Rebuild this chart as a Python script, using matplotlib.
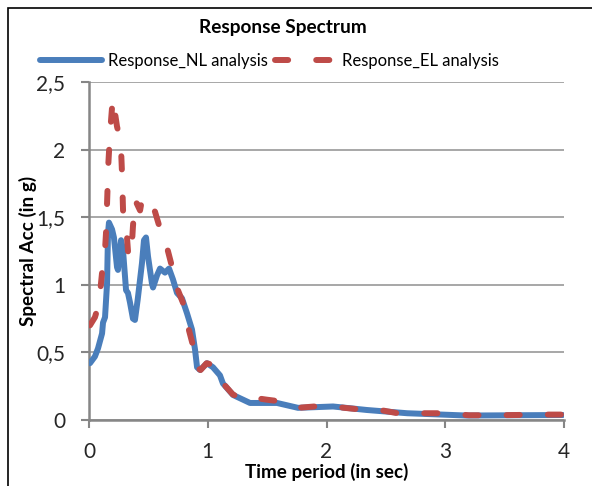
import numpy as np
import matplotlib
matplotlib.use("Agg")
import matplotlib.pyplot as plt
from matplotlib.patches import Rectangle

plt.rcParams['font.family'] = ['Lato', 'DejaVu Sans']

# Response_NL analysis
t_nl = [0.008, 0.05, 0.076, 0.11, 0.118, 0.135, 0.152, 0.16, 0.168, 0.194, 0.21, 0.236,
        0.244, 0.27, 0.286, 0.312, 0.328, 0.345, 0.37, 0.387, 0.41, 0.446, 0.463, 0.48,
        0.497, 0.53, 0.539, 0.573, 0.598, 0.64, 0.674, 0.707, 0.741, 0.783, 0.825, 0.867,
        0.893, 0.91, 0.935, 0.994, 1.044, 1.103, 1.128, 1.213, 1.356, 1.583, 1.76, 2.055,
        2.34, 2.68, 3.18, 3.99]
sa_nl = [0.42, 0.47, 0.53, 0.64, 0.72, 0.76, 1.01, 1.38, 1.46, 1.41, 1.35, 1.13,
         1.11, 1.33, 1.26, 0.96, 0.94, 0.87, 0.75, 0.74, 0.89, 1.16, 1.33, 1.35,
         1.21, 1.01, 0.98, 1.07, 1.12, 1.09, 1.12, 1.04, 0.94, 0.90, 0.79, 0.67,
         0.52, 0.39, 0.37, 0.42, 0.39, 0.33, 0.27, 0.185, 0.126, 0.126, 0.09, 0.10,
         0.074, 0.05, 0.033, 0.037]

# Response_EL analysis
t_el = [0.008, 0.05, 0.067, 0.093, 0.11, 0.118, 0.135, 0.143, 0.150, 0.155, 0.16, 0.177,
        0.194, 0.202, 0.219, 0.236, 0.25, 0.263, 0.27, 0.28, 0.285, 0.29, 0.32, 0.33,
        0.345, 0.362, 0.37, 0.387, 0.43, 0.446, 0.49, 0.52, 0.556, 0.60, 0.65, 0.70,
        0.74, 0.79, 0.834, 0.876, 0.918, 0.94, 0.99, 1.035, 1.10, 1.13, 1.21, 1.30,
        1.42, 1.50, 1.59, 1.70, 1.76, 1.90, 2.06, 2.15, 2.26, 2.45, 2.60, 2.80,
        3.00, 3.20, 3.40, 3.60, 3.80, 4.00]
sa_el = [0.70, 0.76, 0.81, 0.94, 1.09, 1.16, 1.26, 1.38, 1.55, 1.68, 1.85, 2.12,
         2.31, 2.20, 2.27, 2.17, 2.12, 2.07, 2.0, 1.78, 1.60, 1.46, 1.35, 1.23,
         1.20, 1.31, 1.43, 1.63, 1.55, 1.63, 1.65, 1.60, 1.54, 1.41, 1.30, 1.13,
         0.98, 0.87, 0.69, 0.55, 0.38, 0.37, 0.42, 0.41, 0.33, 0.27, 0.19, 0.15,
         0.16, 0.15, 0.14, 0.10, 0.09, 0.10, 0.10, 0.09, 0.08, 0.074, 0.05, 0.05,
         0.05, 0.035, 0.035, 0.037, 0.04, 0.04]

yticks = [0, 0.5, 1, 1.5, 2, 2.5]
ytick_labels = ["0", "0,5", "1", "1,5", "2", "2,5"]
xticks = [0, 1, 2, 3, 4]

fig = plt.figure(figsize=(5.92, 4.86), dpi=100)
ax = fig.add_axes([89/592, 1 - 420/486, (564 - 89)/592, (420 - 82)/486])

ax.plot(t_nl, sa_nl, color="#4a7ebb", lw=4.3, solid_capstyle="round",
        solid_joinstyle="round", label="Response_NL analysis", zorder=3)
ax.plot(t_el, sa_el, color="#be4b48", lw=4.3, dashes=(2.2, 4.7),
        dash_capstyle="round", dash_joinstyle="round",
        label="Response_EL analysis", zorder=4)

ax.set_xlim(0, 4)
ax.set_ylim(0, 2.5)
ax.set_xticks(xticks)
ax.set_yticks(yticks)
ax.set_yticklabels(ytick_labels)
ax.yaxis.grid(True, color="#a0a0a0", lw=1.3)
ax.set_axisbelow(True)
for s in ["top", "right"]:
    ax.spines[s].set_visible(False)
for s in ["left", "bottom"]:
    ax.spines[s].set_color("#868686")
    ax.spines[s].set_linewidth(1.8)
ax.tick_params(axis="both", direction="out", length=6, width=1.5, color="#868686",
               labelsize=15, labelcolor="#262626")
ax.tick_params(axis="x", pad=10)
ax.tick_params(axis="y", pad=11)

ax.set_xlabel("Time period (in sec)", fontsize=13.6, fontweight="bold")
ax.set_ylabel("Spectral Acc (in g)", fontsize=13.6, fontweight="bold")
ax.xaxis.set_label_coords(0.5, (420 - 472) / 338)
ax.xaxis.label.set_va("center")
ax.yaxis.set_label_coords((28 - 89) / 475, 0.5)
ax.yaxis.label.set_va("center")

fig.text(283/592, 1 - 27/486, "Response Spectrum", ha="center", va="center",
         fontsize=13.7, fontweight="bold")
fig.legend(loc="center left", bbox_to_anchor=(40/592, 1 - 61/486), ncol=2, frameon=False,
           fontsize=12, handlelength=3.7, columnspacing=0.42, handletextpad=0.36,
           borderpad=0, borderaxespad=0)

# chart frame (cut off on the right and bottom)
fig.patches.append(Rectangle((8/592, -0.5), 2, 0.5 + 1 - 8/486, transform=fig.transFigure,
                             fill=False, ec="black", lw=1.2))

fig.savefig("out.png", dpi=100)
